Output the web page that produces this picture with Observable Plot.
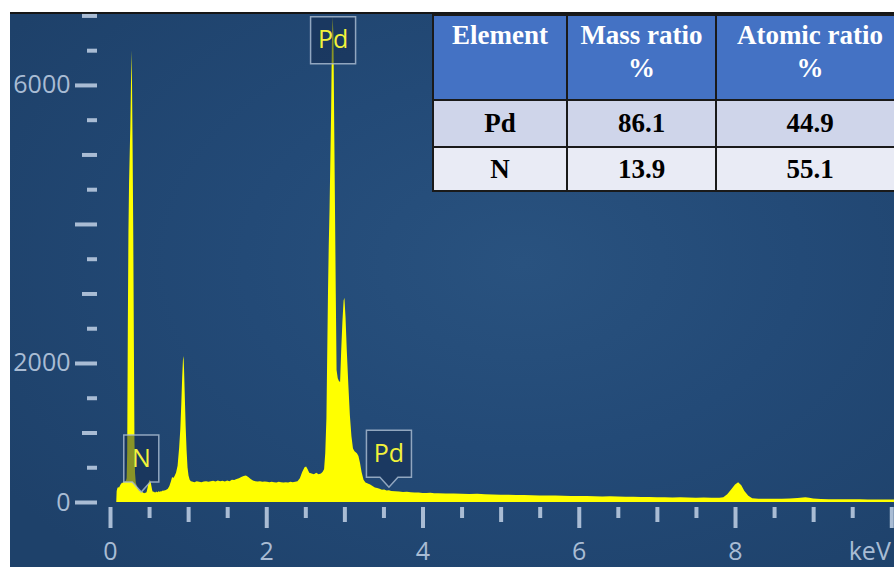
<!DOCTYPE html>
<html>
<head>
<meta charset="utf-8">
<script src="https://cdn.jsdelivr.net/npm/d3@7"></script>
<script src="https://cdn.jsdelivr.net/npm/@observablehq/plot@0.6"></script>
<style>
  html, body { margin: 0; padding: 0; background: #fff; }
  #figure { position: relative; width: 894px; height: 567px; overflow: hidden; background: #fff; }
  #panel {
    position: absolute; left: 10px; top: 12px; right: 0; bottom: 0;
    border-top: 2px solid #161616;
    background: radial-gradient(ellipse 70% 75% at 58% 45%, #29527f 0%, #234a77 45%, #1e416a 100%);
  }
  #chart { position: absolute; left: 0; top: 0; }
  #chart svg { display: block; }
  #ratios {
    position: absolute; left: 432px; top: 14px;
    border-collapse: collapse; table-layout: fixed; width: 471px;
    font-family: "Liberation Serif", "Times New Roman", serif;
    font-weight: bold; font-size: 27px;
  }
  #ratios th, #ratios td { border: 2px solid #1a1a1a; text-align: center; padding: 0; }
  #ratios th { background: #4472c4; color: #fff; vertical-align: top; height: 80px; line-height: 33px; padding-top: 3px; font-weight: bold; }
  #ratios td { color: #000; }
  #ratios tr.r0 td { background: #cfd5ea; height: 45px; }
  #ratios tr.r1 td { background: #e9ebf5; height: 42px; }
</style>
</head>
<body>
<div id="figure">
  <div id="panel"></div>
  <div id="chart"></div>
  <table id="ratios"></table>
</div>
<script>
// EDS spectrum: [energy (keV), counts]
const spectrum = [
  [0.080,0],[0.085,160],[0.095,200],[0.105,215],[0.115,205],[0.125,230],[0.135,250],[0.145,265],
  [0.155,280],[0.165,275],[0.175,295],[0.185,290],[0.195,300],[0.205,310],[0.213,340],[0.220,700],
  [0.228,2500],[0.236,3900],[0.244,4600],[0.252,5000],[0.260,5400],[0.268,6000],[0.275,6500],
  [0.282,6000],[0.290,5000],[0.298,3800],[0.306,2200],[0.313,900],[0.320,420],[0.330,280],
  [0.340,240],[0.350,200],[0.360,185],[0.370,170],[0.380,160],[0.390,165],[0.400,150],[0.410,145],
  [0.420,140],[0.430,130],[0.440,125],[0.450,135],[0.460,130],[0.470,150],[0.480,200],[0.490,260],
  [0.500,300],[0.510,320],[0.520,290],[0.530,230],[0.540,170],[0.550,145],[0.560,150],[0.570,140],
  [0.580,135],[0.590,150],[0.600,145],[0.610,140],[0.620,155],[0.630,150],[0.640,145],[0.650,160],
  [0.660,150],[0.670,165],[0.680,160],[0.690,170],[0.700,165],[0.720,175],[0.740,190],[0.760,230],
  [0.780,300],[0.795,360],[0.810,345],[0.825,370],[0.845,420],[0.865,520],[0.885,780],[0.900,1050],
  [0.912,1400],[0.924,1800],[0.934,2050],[0.941,2100],[0.948,1900],[0.958,1500],[0.968,1100],
  [0.980,750],[0.992,500],[1.005,380],[1.020,320],[1.035,300],
  [1.05,295],[1.08,285],[1.11,300],[1.14,290],[1.17,285],[1.20,295],[1.23,300],[1.26,290],
  [1.29,300],[1.32,305],[1.35,295],[1.38,310],[1.41,300],[1.44,305],[1.47,295],[1.50,310],
  [1.53,300],[1.56,320],[1.59,315],[1.62,330],[1.65,340],[1.68,360],[1.71,375],[1.74,380],
  [1.77,360],[1.80,330],[1.83,310],[1.86,300],[1.89,295],[1.92,300],[1.95,290],[1.98,295],
  [2.01,290],[2.04,285],[2.07,290],[2.10,285],[2.13,280],[2.16,290],[2.19,285],[2.22,280],
  [2.25,285],[2.28,280],[2.31,290],[2.34,285],[2.37,290],[2.40,300],[2.43,340],[2.46,430],
  [2.49,500],[2.51,510],[2.53,470],[2.55,420],[2.58,410],[2.61,400],[2.64,420],[2.67,400],
  [2.70,410],[2.72,430],[2.74,470],[2.755,700],[2.77,1200],[2.78,2100],[2.79,3000],[2.80,3700],
  [2.81,4200],[2.82,4900],[2.83,5600],[2.84,6600],[2.85,6980],[2.86,6700],[2.87,5400],[2.88,4200],
  [2.89,3000],[2.90,1900],[2.915,1780],[2.93,1740],[2.945,1725],[2.96,2200],[2.975,2600],[2.99,2900],
  [3.00,2940],[3.015,2650],[3.03,2200],[3.05,1700],[3.07,1250],[3.09,950],[3.11,770],[3.13,730],
  [3.16,700],[3.18,660],[3.20,560],[3.22,430],[3.245,320],[3.27,280],[3.30,265],
  [3.33,250],[3.36,230],[3.39,210],[3.42,200],[3.45,190],[3.48,175],[3.51,180],[3.54,165],
  [3.57,170],[3.60,160],[3.65,155],[3.70,150],[3.75,145],[3.80,148],[3.85,140],[3.90,138],
  [3.95,135],[4.00,130],[4.05,128],[4.10,132],[4.15,125],[4.20,127],[4.30,122],[4.40,124],
  [4.50,118],[4.60,115],[4.70,117],[4.80,110],[4.90,108],[5.00,106],[5.10,104],[5.20,100],
  [5.30,102],[5.40,97],[5.50,95],[5.60,93],[5.70,94],[5.80,90],[5.90,88],[6.00,86],
  [6.10,85],[6.20,83],[6.30,80],[6.40,82],[6.50,78],[6.60,76],[6.70,74],[6.80,72],
  [6.90,73],[7.00,70],[7.10,68],[7.20,66],[7.30,67],[7.40,64],[7.50,62],[7.60,63],
  [7.70,60],[7.80,62],[7.85,70],[7.90,110],[7.95,180],[8.00,250],[8.04,285],[8.08,240],
  [8.12,160],[8.17,90],[8.22,55],[8.30,48],[8.40,46],[8.50,45],[8.60,47],[8.70,50],
  [8.80,58],[8.90,67],[8.95,60],[9.00,50],[9.10,44],[9.20,41],[9.30,40],[9.40,39],
  [9.50,38],[9.60,38],[9.70,37],[9.80,37],[9.90,36],[10.00,36],[10.10,35]
];

// Axis ticks
const xLongTicks = [0, 2, 4, 6, 8, 10];
const xMidTicks = [1, 3, 5, 7, 9];
const xShortTicks = [0.5, 1.5, 2.5, 3.5, 4.5, 5.5, 6.5, 7.5, 8.5, 9.5];
const xTickLabels = [0, 2, 4, 6, 8];
const xUnitLabel = "keV";
const yLongTicks = [0, 2000, 4000, 6000];
const yMidTicks = [1000, 3000, 5000, 7000];
const yShortTicks = [500, 1500, 2500, 3500, 4500, 5500, 6500];
const yTickLabels = [0, 2000, 6000];

// Element markers
const markerText = ["N", "Pd", "Pd"];
const markerEnergy = [0.394, 3.564, 2.849];
const markerCounts = [632, 703, 6650];
const markerPointer = [true, true, false];

// Composition table
const tableHeader = ["Element", "Mass ratio<br>%", "Atomic ratio<br>%"];
const elements = ["Pd", "N"];
const massRatio = [86.1, 13.9];
const atomicRatio = [44.9, 55.1];

const axisColor = "#a9bcd4";
const font = "'Open Sans', 'Noto Sans', sans-serif";
const rows = spectrum.map(([energy, count]) => ({energy, count}));

// Callout box with an optional downward pointer, centred on the marker
function calloutBox(w, h, pointer) {
  return {
    draw(ctx) {
      const x0 = -w / 2, x1 = w / 2, y0 = -h / 2, y1 = h / 2;
      ctx.moveTo(x0, y0);
      ctx.lineTo(x1, y0);
      ctx.lineTo(x1, y1);
      if (pointer) { ctx.lineTo(9, y1); ctx.lineTo(0, y1 + 10); ctx.lineTo(-9, y1); }
      ctx.lineTo(x0, y1);
      ctx.closePath();
    }
  };
}

const markerMarks = markerText.flatMap((t, i) => [
  Plot.dot([i], {
    x: j => markerEnergy[j], y: j => markerCounts[j],
    symbol: calloutBox(t.length > 1 ? 45 : 35, 47, markerPointer[i]),
    fill: "#132a4e", fillOpacity: 0.5,
    stroke: "#a6b8cf", strokeOpacity: 0.85, strokeWidth: 1.5
  }),
  Plot.text([i], {
    x: j => markerEnergy[j], y: j => markerCounts[j], text: j => markerText[j],
    fill: "#f2f23a", fontSize: 25, fontFamily: font
  })
]);

const tickStyle = {stroke: axisColor, strokeWidth: 4, fill: "none", label: null};
const textStyle = {tickSize: 0, fill: axisColor, fontSize: 25, fontFamily: font, label: null, tickFormat: d => String(d)};

const chart = Plot.plot({
  width: 894,
  height: 567,
  marginLeft: 110,
  marginRight: 0,
  marginTop: 13,
  marginBottom: 65,
  style: {background: "transparent", fontFamily: font},
  x: {domain: [0, 10.035], label: null},
  y: {domain: [0, 7035], label: null},
  marks: [
    Plot.areaY(rows, {x: "energy", y: "count", fill: "#ffff00", clip: true}),
    Plot.axisY(yLongTicks, {...tickStyle, tickSize: 22, dx: -13}),
    Plot.axisY(yMidTicks, {...tickStyle, tickSize: 15, dx: -13}),
    Plot.axisY(yShortTicks, {...tickStyle, tickSize: 10, dx: -13}),
    Plot.axisY(yTickLabels, {...textStyle, tickPadding: 40}),
    Plot.axisX(xLongTicks, {...tickStyle, tickSize: 21, dy: 5}),
    Plot.axisX(xMidTicks, {...tickStyle, tickSize: 15, dy: 5}),
    Plot.axisX(xShortTicks, {...tickStyle, tickSize: 11, dy: 5}),
    Plot.axisX(xTickLabels, {...textStyle, tickPadding: 40}),
    Plot.axisX([10], {...textStyle, tickPadding: 40, dx: -22, tickFormat: () => xUnitLabel}),
    ...markerMarks
  ]
});
document.getElementById("chart").append(chart);

// Build the composition table from the arrays
const table = document.getElementById("ratios");
const colgroup = document.createElement("colgroup");
[134, 149, 188].forEach(w => {
  const c = document.createElement("col");
  c.style.width = w + "px";
  colgroup.append(c);
});
table.append(colgroup);
const head = document.createElement("tr");
tableHeader.forEach(h => {
  const th = document.createElement("th");
  th.innerHTML = h;
  head.append(th);
});
table.append(head);
elements.forEach((el, i) => {
  const tr = document.createElement("tr");
  tr.className = "r" + i;
  [el, massRatio[i].toFixed(1), atomicRatio[i].toFixed(1)].forEach(v => {
    const td = document.createElement("td");
    td.textContent = v;
    tr.append(td);
  });
  table.append(tr);
});
</script>
</body>
</html>
